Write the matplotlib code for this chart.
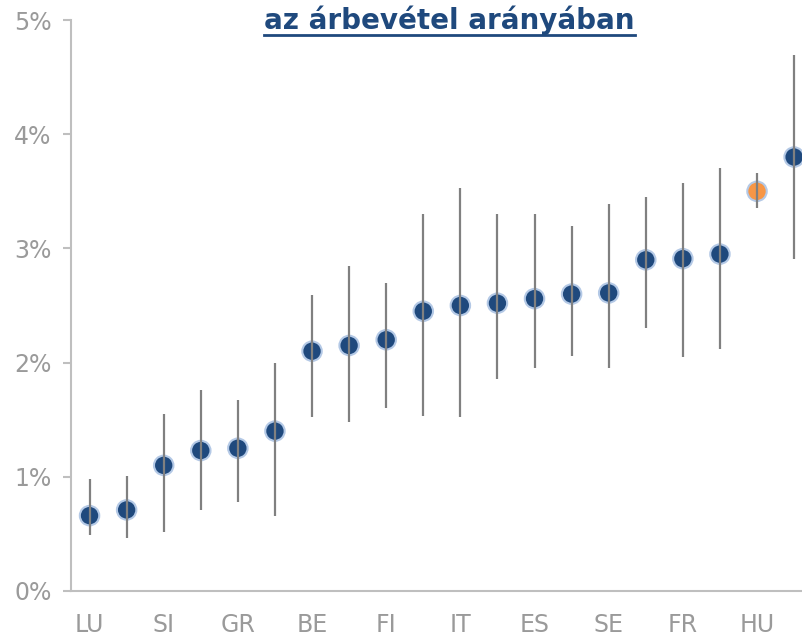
import matplotlib
matplotlib.use("Agg")
import matplotlib.pyplot as plt
from matplotlib.lines import Line2D

# estimated values (percent of revenue)
values = [0.66, 0.71, 1.10, 1.23, 1.25, 1.40, 2.10, 2.15, 2.20, 2.45,
          2.50, 2.52, 2.56, 2.60, 2.61, 2.90, 2.91, 2.95, 3.50, 3.80]
upper = [0.98, 1.01, 1.55, 1.76, 1.67, 2.00, 2.59, 2.85, 2.70, 3.30,
         3.53, 3.30, 3.30, 3.20, 3.39, 3.45, 3.57, 3.70, 3.66, 4.69]
lower = [0.49, 0.46, 0.52, 0.71, 0.78, 0.66, 1.52, 1.48, 1.60, 1.53,
         1.52, 1.86, 1.95, 2.06, 1.95, 2.30, 2.05, 2.12, 3.35, 2.91]
tick_pos = [0, 2, 4, 6, 8, 10, 12, 14, 16, 18]
tick_labels = ["LU", "SI", "GR", "BE", "FI", "IT", "ES", "SE", "FR", "HU"]
highlight = 18  # HU

navy = "#1F497D"
orange = "#F79646"
gray_txt = "#9A9A9A"

fig = plt.figure(figsize=(8.03, 6.38), dpi=100)
ax = fig.add_axes([71 / 803, 47 / 638, 732 / 803, 571 / 638])

x = list(range(len(values)))
colors = [orange if i == highlight else navy for i in x]
ax.scatter(x, values, s=14 ** 2, c=colors, edgecolors="#B4C9E6",
           linewidths=1.5, zorder=2)
yerr = [[v - l for v, l in zip(values, lower)], [u - v for v, u in zip(values, upper)]]
ax.errorbar(x, values, yerr=yerr, fmt="none", ecolor="#808080",
            elinewidth=1.6, capsize=0, zorder=3)

ax.set_xlim(-0.5, 19.24)
ax.set_ylim(0, 5)
ax.set_yticks([0, 1, 2, 3, 4, 5])
ax.set_yticklabels([f"{i}%" for i in range(6)])
ax.set_xticks(tick_pos)
ax.set_xticklabels(tick_labels)

for s in ["top", "right"]:
    ax.spines[s].set_visible(False)
for s in ["left", "bottom"]:
    ax.spines[s].set_color("#BFBFBF")
    ax.spines[s].set_linewidth(1.5)
ax.tick_params(axis="y", length=6, width=1.5, color="#BFBFBF",
               labelsize=17, labelcolor=gray_txt, pad=8)
ax.tick_params(axis="x", length=0, labelsize=17, labelcolor=gray_txt, pad=16)
ax.set_clip_on(False)

title = fig.text(449.5 / 803, 1 - 29 / 638, "az árbevétel arányában",
                 ha="center", va="baseline", fontsize=20, fontweight="bold",
                 color=navy)
fig.canvas.draw()
bb = title.get_window_extent().transformed(fig.transFigure.inverted())
uy = 1 - 35 / 638
fig.add_artist(Line2D([bb.x0, bb.x1], [uy, uy], transform=fig.transFigure,
                      color=navy, linewidth=2))

fig.savefig("out.png", dpi=100)
